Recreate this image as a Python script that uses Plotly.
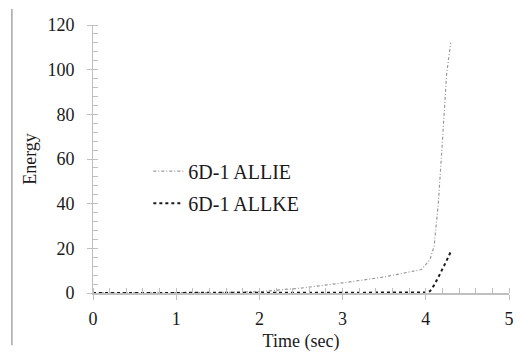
import plotly.graph_objects as go

# Data
t_ie = [0, 0.5, 1.0, 1.5, 2.0, 2.5, 3.0, 3.5, 3.95, 4.05, 4.1, 4.15, 4.2, 4.25, 4.3]
e_ie = [0, 0.02, 0.05, 0.2, 0.6, 2.2, 4.5, 7.2, 10.5, 15, 21, 40, 68, 98, 112]
t_ke = [0, 1.0, 2.0, 3.0, 4.0, 4.05, 4.1, 4.15, 4.2, 4.25, 4.3]
e_ke = [0, 0, 0, 0, 0.2, 0.8, 3.5, 7, 10.5, 14.5, 18.5]
name_ie = "6D-1 ALLIE"
name_ke = "6D-1 ALLKE"
x_ticks = [0, 1, 2, 3, 4, 5]
y_ticks = [0, 20, 40, 60, 80, 100, 120]

font = "Liberation Serif, Times New Roman, serif"
axcol = "#bfbfbf"
fs = 18

fig = go.Figure()
fig.add_trace(go.Scatter(x=t_ie, y=e_ie, mode="lines", name=name_ie,
                         line=dict(color="#999999", width=1.2, dash="3px,2px,1px,2px"),
                         legend="legend"))
fig.add_trace(go.Scatter(x=t_ke, y=e_ke, mode="lines", name=name_ke,
                         line=dict(color="#1a1a1a", width=2, dash="dot"),
                         legend="legend2"))

fig.update_layout(
    width=528, height=353,
    margin=dict(l=93, r=19, t=25, b=60, autoexpand=False),
    paper_bgcolor="white", plot_bgcolor="white",
    font=dict(family=font, size=fs, color="#1a1a1a"),
    legend=dict(x=0.133, y=0.455, xanchor="left", yanchor="middle",
                bgcolor="rgba(0,0,0,0)", font=dict(size=20, family=font)),
    legend2=dict(x=0.133, y=0.335, xanchor="left", yanchor="middle",
                 bgcolor="rgba(0,0,0,0)", font=dict(size=20, family=font)),
    xaxis=dict(range=[0, 5], tickvals=x_ticks, showgrid=False, zeroline=False,
               showline=True, linecolor=axcol, linewidth=1.5, automargin=False,
               ticks="outside", ticklen=5, tickcolor=axcol, tickwidth=1,
               ticklabelstandoff=4,
               minor=dict(dtick=0.2, ticks="inside", ticklen=5, tickcolor=axcol),
               title=dict(text="Time (sec)", font=dict(size=fs, family=font), standoff=6),
               tickfont=dict(size=fs, family=font)),
    yaxis=dict(range=[0, 120], tickvals=y_ticks, showgrid=False, zeroline=False,
               showline=True, linecolor=axcol, linewidth=1, automargin=False,
               ticks="outside", ticklen=5, tickcolor=axcol, tickwidth=1,
               ticklabelstandoff=9,
               minor=dict(dtick=4, ticks="inside", ticklen=5, tickcolor=axcol),
               title=dict(text="Energy", font=dict(size=fs, family=font), standoff=6),
               tickfont=dict(size=fs, family=font)),
    xaxis2=dict(range=[0, 5], tickvals=x_ticks, overlaying="x", side="bottom",
                anchor="y", showticklabels=False, showgrid=False, zeroline=False,
                ticks="inside", ticklen=5, tickcolor=axcol, showline=False, automargin=False),
    yaxis2=dict(range=[0, 120], tickvals=y_ticks, overlaying="y", side="left",
                anchor="x", showticklabels=False, showgrid=False, zeroline=False,
                ticks="inside", ticklen=5, tickcolor=axcol, showline=False, automargin=False),
    shapes=[dict(type="line", xref="paper", yref="paper",
                 x0=-0.195, x1=-0.195, y0=-0.195, y1=1.06,
                 line=dict(color="#a6a6a6", width=1.5))],
)
# dummy trace to activate overlay axes for inside major ticks
fig.add_trace(go.Scatter(x=[None], y=[None], xaxis="x2", yaxis="y2", showlegend=False, hoverinfo="skip"))

fig.write_html("out.html")
